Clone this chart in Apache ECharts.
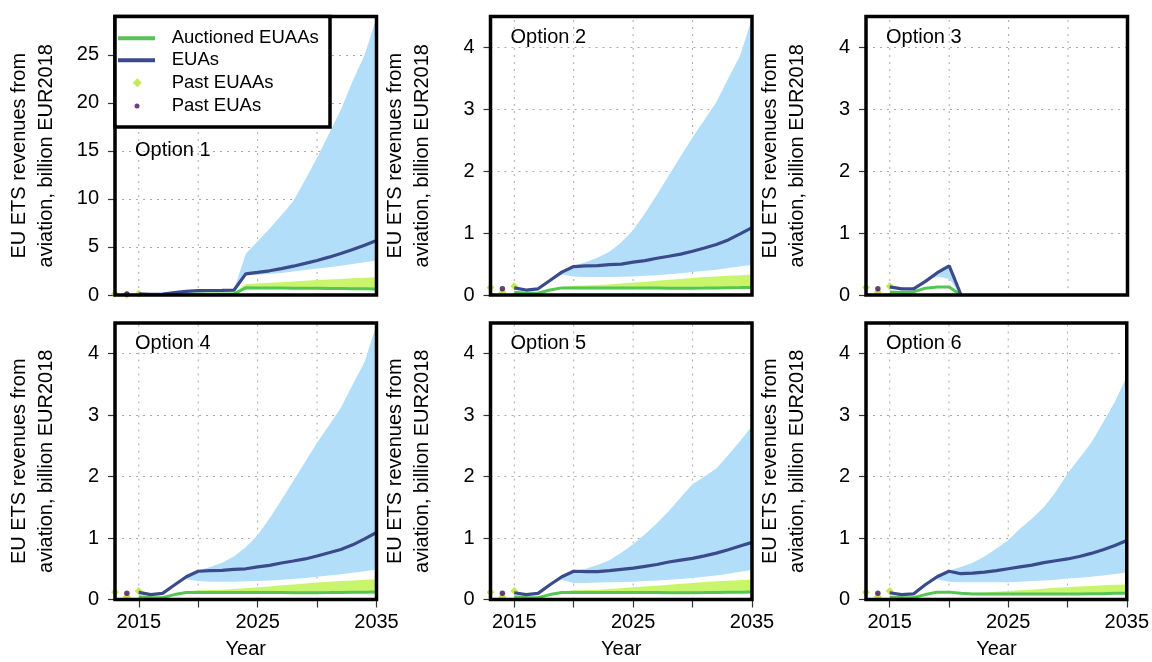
<!DOCTYPE html>
<html><head><meta charset="utf-8">
<script src="https://cdn.jsdelivr.net/npm/echarts@6/dist/echarts.min.js"></script>
<style>html,body{margin:0;padding:0;background:#fff}#c{width:1152px;height:662px}</style>
</head><body><div id="c"></div>
<script>
// ---------- DATA ----------
const years = [2015,2016,2017,2018,2019,2020,2021,2022,2023,2024,2025,2026,2027,2028,2029,2030,2031,2032,2033,2034,2035];
const xTickYears = [2015,2020,2025,2030,2035];
const xLabelYears = [2015,2025,2035];
const yTicksOpt1 = [0,5,10,15,20,25];
const yTicksOther = [0,1,2,3,4];
const panelTitles = ['Option 1','Option 2','Option 3','Option 4','Option 5','Option 6'];

const pastEUAAYears = [2013,2014,2015];
const pastEUAAValues = [0.12, 0.045, 0.14];
const pastEUAYears = [2014];
const pastEUAValues = [0.10];

// Option 1
const opt1EUA     = [0.11,0.08,0.1,0.24,0.37,0.46,0.47,0.48,0.5,2.2,2.35,2.52,2.74,3.0,3.29,3.6,3.94,4.32,4.73,5.18,5.68];
const opt1EUALow  = [0.11,0.08,0.1,0.24,0.37,0.46,0.47,0.48,0.5,2.05,2.1,2.2,2.3,2.45,2.6,2.75,2.9,3.05,3.22,3.4,3.6];
const opt1EUAHigh = [0.11,0.08,0.1,0.24,0.37,0.46,0.47,0.48,0.5,4.3,5.6,6.9,8.3,9.8,12.0,14.3,16.8,19.3,22.3,25.0,28.9];
const opt1Auc     = [0.03,0.02,0.02,0.06,0.09,0.1,0.1,0.1,0.12,0.75,0.74,0.73,0.72,0.71,0.7,0.69,0.68,0.67,0.66,0.64,0.62];
const opt1AucHigh = [0.03,0.02,0.02,0.06,0.09,0.1,0.1,0.1,0.12,1.15,1.2,1.27,1.34,1.41,1.48,1.55,1.61,1.67,1.74,1.8,1.86];
// Option 2
const opt2EUA     = [0.115,0.08,0.1,0.235,0.37,0.46,0.47,0.475,0.49,0.5,0.53,0.556,0.594,0.626,0.66,0.707,0.76,0.815,0.89,0.987,1.09];
const opt2EUALow  = [0.115,0.08,0.1,0.235,0.33,0.3,0.29,0.29,0.29,0.295,0.3,0.31,0.32,0.335,0.35,0.37,0.39,0.41,0.435,0.46,0.49];
const opt2EUAHigh = [0.115,0.08,0.1,0.235,0.37,0.47,0.53,0.6,0.7,0.85,1.05,1.32,1.62,1.93,2.24,2.55,2.83,3.12,3.5,3.87,4.47];
const opt2Auc     = [0.045,0.03,0.03,0.08,0.115,0.115,0.115,0.115,0.115,0.115,0.115,0.113,0.112,0.11,0.11,0.11,0.112,0.115,0.118,0.12,0.123];
const opt2AucHigh = [0.045,0.03,0.03,0.08,0.13,0.15,0.155,0.16,0.17,0.185,0.2,0.21,0.23,0.245,0.26,0.275,0.29,0.3,0.31,0.32,0.33];
// Option 3 (2015-2021)
const opt3EUA     = [0.13,0.1,0.1,0.22,0.36,0.47,0];
const opt3EUALow  = [0.13,0.1,0.1,0.22,0.3,0.26,0];
const opt3EUAHigh = [0.13,0.1,0.1,0.22,0.38,0.48,0];
const opt3Auc     = [0.05,0.04,0.05,0.11,0.13,0.13,0];
const opt3AucHigh = [0.05,0.04,0.05,0.11,0.14,0.145,0];
// Option 4
const opt4EUA     = [0.115,0.08,0.1,0.235,0.37,0.46,0.47,0.475,0.49,0.5,0.53,0.556,0.594,0.626,0.66,0.707,0.76,0.815,0.89,0.987,1.09];
const opt4EUALow  = [0.115,0.08,0.1,0.235,0.33,0.3,0.29,0.29,0.29,0.295,0.3,0.31,0.32,0.335,0.35,0.37,0.39,0.41,0.435,0.46,0.49];
const opt4EUAHigh = [0.115,0.08,0.1,0.235,0.37,0.47,0.53,0.6,0.7,0.85,1.05,1.32,1.62,1.93,2.24,2.55,2.83,3.12,3.5,3.87,4.47];
const opt4Auc     = [0.045,0.03,0.03,0.08,0.115,0.115,0.115,0.115,0.115,0.115,0.115,0.113,0.112,0.11,0.11,0.11,0.112,0.115,0.118,0.12,0.123];
const opt4AucHigh = [0.045,0.03,0.03,0.08,0.13,0.15,0.155,0.16,0.17,0.185,0.2,0.21,0.23,0.245,0.26,0.275,0.29,0.3,0.31,0.32,0.33];
// Option 5
const opt5EUA     = [0.11,0.08,0.1,0.24,0.37,0.46,0.455,0.455,0.47,0.49,0.51,0.54,0.57,0.61,0.64,0.67,0.71,0.755,0.81,0.87,0.93];
const opt5EUALow  = [0.11,0.08,0.1,0.24,0.32,0.27,0.27,0.275,0.28,0.285,0.29,0.3,0.31,0.32,0.335,0.35,0.37,0.39,0.42,0.45,0.48];
const opt5EUAHigh = [0.11,0.08,0.1,0.24,0.37,0.47,0.5,0.56,0.64,0.76,0.9,1.06,1.24,1.44,1.66,1.88,2.0,2.13,2.35,2.58,2.82];
const opt5Auc     = [0.045,0.03,0.03,0.08,0.115,0.115,0.115,0.115,0.115,0.115,0.115,0.113,0.112,0.11,0.11,0.11,0.112,0.115,0.118,0.12,0.123];
const opt5AucHigh = [0.045,0.03,0.03,0.08,0.13,0.15,0.155,0.16,0.17,0.185,0.2,0.21,0.225,0.24,0.255,0.27,0.285,0.295,0.305,0.315,0.325];
// Option 6
const opt6EUA     = [0.11,0.08,0.09,0.24,0.37,0.46,0.42,0.43,0.445,0.47,0.5,0.53,0.56,0.6,0.63,0.66,0.7,0.75,0.81,0.88,0.96];
const opt6EUALow  = [0.11,0.08,0.09,0.24,0.33,0.29,0.28,0.28,0.28,0.28,0.28,0.29,0.3,0.31,0.32,0.34,0.355,0.37,0.39,0.415,0.44];
const opt6EUAHigh = [0.11,0.08,0.09,0.24,0.37,0.47,0.53,0.6,0.7,0.83,0.97,1.15,1.32,1.5,1.75,2.05,2.3,2.55,2.88,3.22,3.63];
const opt6Auc     = [0.04,0.03,0.03,0.08,0.12,0.12,0.1,0.09,0.09,0.09,0.09,0.09,0.09,0.09,0.09,0.09,0.09,0.095,0.095,0.1,0.1];
const opt6AucHigh = [0.04,0.03,0.03,0.08,0.125,0.13,0.115,0.11,0.115,0.125,0.14,0.15,0.16,0.175,0.19,0.2,0.21,0.22,0.23,0.24,0.245];

// ---------- STYLE / LAYOUT ----------
const FONT = '"Liberation Sans", Arial, Helvetica, sans-serif';
const C_BAND_BLUE = '#b3defa';
const C_BAND_GREEN = '#c8f56c';
const C_GREEN = '#55c553';
const C_BLUE = '#3b4a8b';
const C_DIAMOND = '#b6e22a';
const C_PURPLE = '#4a0f57';
const C_GRID = '#aaaaaa';

const colLeft = [115, 490.5, 866];
const rowTop = [16.5, 323];
const gW = 261.5, gH = 278.5;

const panels = [
  {eua:opt1EUA, low:opt1EUALow, high:opt1EUAHigh, auc:opt1Auc, aucHigh:opt1AucHigh, ymax:29, yint:5, yticks:yTicksOpt1},
  {eua:opt2EUA, low:opt2EUALow, high:opt2EUAHigh, auc:opt2Auc, aucHigh:opt2AucHigh, ymax:4.5, yint:1, yticks:yTicksOther},
  {eua:opt3EUA, low:opt3EUALow, high:opt3EUAHigh, auc:opt3Auc, aucHigh:opt3AucHigh, ymax:4.5, yint:1, yticks:yTicksOther},
  {eua:opt4EUA, low:opt4EUALow, high:opt4EUAHigh, auc:opt4Auc, aucHigh:opt4AucHigh, ymax:4.5, yint:1, yticks:yTicksOther},
  {eua:opt5EUA, low:opt5EUALow, high:opt5EUAHigh, auc:opt5Auc, aucHigh:opt5AucHigh, ymax:4.5, yint:1, yticks:yTicksOther},
  {eua:opt6EUA, low:opt6EUALow, high:opt6EUAHigh, auc:opt6Auc, aucHigh:opt6AucHigh, ymax:4.5, yint:1, yticks:yTicksOther}
];

function pairs(arr){ return arr.map((v,k)=>[years[k], v]); }

// band polygon drawn through the axes' scales
function bandSeries(i, lo, hi, color){
  const n = lo.length;
  return {
    type:'custom', xAxisIndex:i, yAxisIndex:i, silent:true, animation:false, clip:true,
    data: lo.map((v,k)=>[years[k], v, hi[k]]), encode:{x:0, y:[1,2]},
    renderItem:(params, api)=>{
      if (params.dataIndex !== 0) return null;
      const pts = [];
      for (let k=0;k<n;k++) pts.push(api.coord([years[k], hi[k]]));
      for (let k=n-1;k>=0;k--) pts.push(api.coord([years[k], lo[k]]));
      return {type:'polygon', shape:{points:pts}, style:{fill:color, stroke:null}};
    }
  };
}
// vertical dotted grid lines at the x tick years
function xGridSeries(i, ymax){
  return {
    type:'custom', xAxisIndex:i, yAxisIndex:i, silent:true, animation:false, z:1,
    data: xTickYears.slice(0,-1).map(x=>[x, 0]), encode:{x:0, y:1},
    renderItem:(params, api)=>{
      const x = api.value(0);
      const p0 = api.coord([x, 0]), p1 = api.coord([x, ymax]);
      return {type:'line', shape:{x1:p0[0], y1:p0[1], x2:p1[0], y2:p1[1]}, style:{stroke:C_GRID, lineWidth:1, lineDash:[2,5]}};
    }
  };
}

const grids=[], xAxes=[], yAxes=[], series=[], titles=[];
const gridLine = {color:C_GRID, width:1, type:[2,5]};
panels.forEach((P,i)=>{
  const r = Math.floor(i/3), c = i%3;
  const bottomRow = r===1;
  grids.push({left:colLeft[c], top:rowTop[r], width:gW, height:gH, show:true, borderColor:'#000', borderWidth:3.5, backgroundColor:'transparent', z:10, containLabel:false});
  xAxes.push({
    type:'value', gridIndex:i, min:2013, max:2035, interval:1,
    axisLine:{show:false},
    axisTick:{show:bottomRow, length:8, lineStyle:{color:'#333', width:1.2}, customValues:xTickYears},
    axisLabel:{show:bottomRow, margin:11, fontSize:20, lineHeight:24, color:'#000', fontFamily:FONT, customValues:xLabelYears, formatter:v=>String(v)},
    splitLine:{show:false},
    name: bottomRow ? 'Year' : '', nameLocation:'middle', nameGap:37.5,
    nameTextStyle:{fontSize:20, lineHeight:24, color:'#000', fontFamily:FONT}
  });
  yAxes.push({
    type:'value', gridIndex:i, min:0, max:P.ymax, interval:P.yint,
    axisLine:{show:false},
    axisTick:{show:true, length:7, lineStyle:{color:'#333', width:1.2}, customValues:P.yticks},
    axisLabel:{margin:16, fontSize:20, color:'#000', fontFamily:FONT, customValues:P.yticks},
    splitLine:{show:true, lineStyle:gridLine},
    name:'EU ETS revenues from\naviation, billion EUR2018', nameLocation:'middle', nameGap:55, nameRotate:90,
    nameTextStyle:{fontSize:20, lineHeight:27, color:'#000', fontFamily:FONT}
  });
  const common = {xAxisIndex:i, yAxisIndex:i, symbol:'none', showSymbol:false, silent:true, animation:false};
  series.push(xGridSeries(i, P.ymax));
  series.push(bandSeries(i, P.low, P.high, C_BAND_BLUE));
  series.push(bandSeries(i, P.auc, P.aucHigh, C_BAND_GREEN));
  series.push(Object.assign({type:'line', name:'Auctioned EUAAs', data:pairs(P.auc), color:C_GREEN, itemStyle:{color:C_GREEN}, lineStyle:{color:C_GREEN, width:3}}, common));
  series.push(Object.assign({type:'line', name:'EUAs', data:pairs(P.eua), color:C_BLUE, itemStyle:{color:C_BLUE}, lineStyle:{color:C_BLUE, width:3.2}}, common));
  series.push({type:'scatter', name:'Past EUAAs', xAxisIndex:i, yAxisIndex:i, symbol:'diamond', symbolSize:8, itemStyle:{color:C_DIAMOND}, data:pastEUAAYears.map((y,k)=>[y, pastEUAAValues[k]]), silent:true, animation:false, clip:false});
  series.push({type:'scatter', name:'Past EUAs', xAxisIndex:i, yAxisIndex:i, symbol:'circle', symbolSize:5.5, itemStyle:{color:C_PURPLE}, data:pastEUAYears.map((y,k)=>[y, pastEUAValues[k]]), silent:true, animation:false});
  titles.push({text:panelTitles[i], left:colLeft[c]+20, top: i===0 ? 138 : rowTop[r]+8.5, padding:0,
    textStyle:{fontSize:20, fontWeight:'normal', color:'#000', fontFamily:FONT, lineHeight:24}});
});

const legendText = (w)=>({fontSize:18.5, lineHeight:22, color:'#000', fontFamily:FONT, rich:{s:{width:w, fontSize:18.5, lineHeight:22}}});
const option = {
  animation:false,
  title:titles,
  grid:grids, xAxis:xAxes, yAxis:yAxes, series:series,
  legend:[
    {data:['Auctioned EUAAs','EUAs'], orient:'vertical', left:118, top:27.3, padding:0, itemGap:0,
     icon:'rect', itemWidth:37, itemHeight:4, itemStyle:{borderWidth:0}, selectedMode:false, z:60,
     formatter:n=>'{s| }'+n, textStyle:legendText(11.7)},
    {data:['Past EUAAs'], orient:'vertical', left:132.8, top:71.7, padding:0, itemGap:0,
     icon:'diamond', itemWidth:9, itemHeight:9, itemStyle:{borderWidth:0}, selectedMode:false, z:60,
     formatter:n=>'{s| }'+n, textStyle:legendText(24.9)},
    {data:['Past EUAs'], orient:'vertical', left:134.5, top:95, padding:0, itemGap:0,
     icon:'circle', itemWidth:5, itemHeight:5, itemStyle:{borderWidth:0}, selectedMode:false, z:60,
     formatter:n=>'{s| }'+n, textStyle:legendText(27.2)}
  ],
  graphic:[
    {type:'rect', z:50, silent:true, shape:{x:115, y:16.5, width:215, height:110.5}, style:{fill:'#fff', stroke:'#000', lineWidth:3.5}}
  ]
};
const chart = echarts.init(document.getElementById('c'), null, {renderer:'canvas'});
chart.setOption(option);
</script></body></html>
